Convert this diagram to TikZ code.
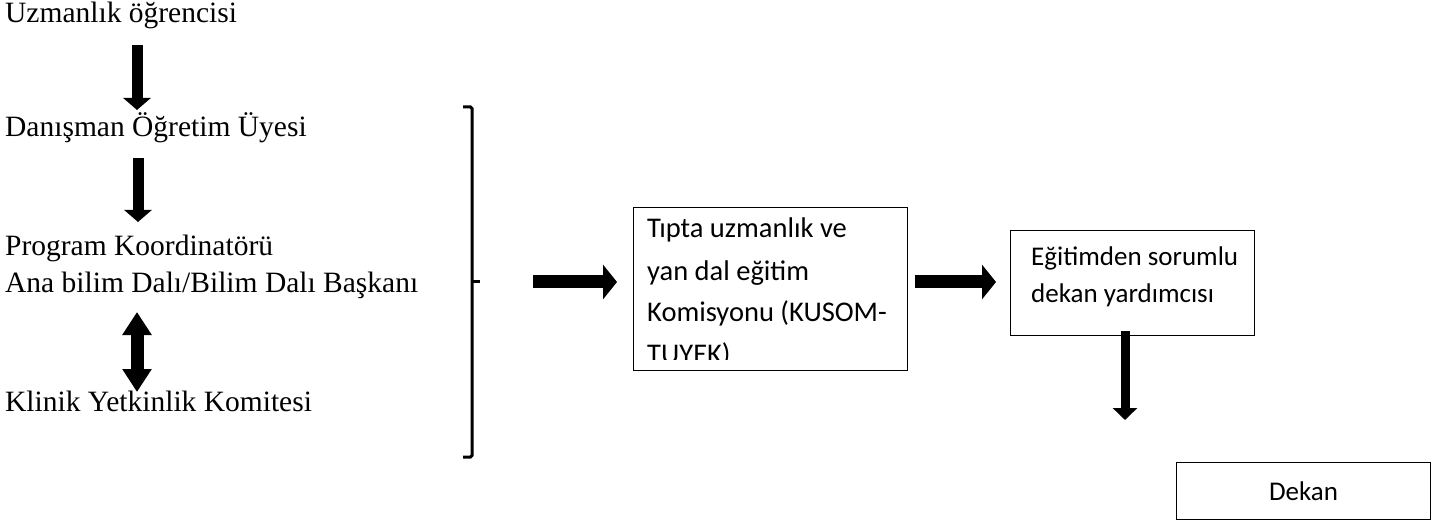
\documentclass[tikz,border=0pt]{standalone}
\usepackage{fontspec}
\setmainfont{Liberation Serif}
\newfontfamily\boxfont{Carlito}
\usetikzlibrary{arrows.meta}
\begin{document}
\begin{tikzpicture}[x=1pt,y=-1pt,
  lbl/.style={anchor=base west, inner sep=0pt, font=\fontsize{29.5}{34}\selectfont},
  frame/.style={draw, line width=1.1pt, anchor=north west, inner sep=0pt},
  btext/.style={anchor=base west, inner sep=0pt, font=\boxfont\fontsize{27}{32}\selectfont},
  btextA/.style={btext, font=\boxfont\fontsize{28.5}{34}\selectfont},
  dnarrow/.style={line width=11pt, -{Triangle[width=27pt,length=12pt]}},
  dblarrow/.style={line width=13pt, {Triangle[width=28pt,length=23pt]}-{Triangle[width=28pt,length=23pt]}},
  rtarrow/.style={line width=13pt, -{Triangle[width=34pt,length=14pt]}},
  smarrow/.style={line width=9pt, -{Triangle[width=24pt,length=12pt]}},
  brack/.style={line width=3pt, rounded corners=1.5pt}
]
\useasboundingbox (0,0) rectangle (1448,521);

% left column texts
\node[lbl] (u) at (5,23) {Uzmanlık öğrencisi};
\node[lbl] (d) at (5,137) {Danışman Öğretim Üyesi};
\node[lbl] (p) at (5,256) {Program Koordinatörü};
\node[lbl] (a) at (5,293) {Ana bilim Dalı/Bilim Dalı Başkanı};
\node[lbl] (k) at (5,411) {Klinik Yetkinlik Komitesi};

% vertical arrows
\coordinate (a1s) at (137,45);  \coordinate (a1e) at (137,110);
\coordinate (a2s) at (138,158); \coordinate (a2e) at (138,222);
\coordinate (a3s) at (137,312); \coordinate (a3e) at (137,392);
\draw[dnarrow] (a1s) -- (a1e);
\draw[dnarrow] (a2s) -- (a2e);
\draw[dblarrow] (a3s) -- (a3e);

% bracket
\coordinate (bt) at (463,107);
\coordinate (bb) at (463,457);
\coordinate (bm) at (480,282);
\draw[brack] (bt) -- (472,107) -- (472,457) -- (bb);
\draw[line width=3pt] (472,282) -- (bm);

% box 1
\node[frame, minimum width=274pt, minimum height=163pt] (k1) at (633,207) {};
\begin{scope}
  \clip (634,208) rectangle (906,359);
  \node[btextA] (k1l1) at (647,238) {Tıpta uzmanlık ve};
  \node[btextA] (k1l2) at (647,280) {yan dal eğitim};
  \node[btextA] (k1l3) at (647,321) {Komisyonu (KUSOM-};
  \node[btextA] (k1l4) at (647,363) {TUYEK)};
\end{scope}

% box 2
\node[frame, minimum width=244pt, minimum height=105pt] (k2) at (1010,230) {};
\node[btext] (k2l1) at (1031,266) {Eğitimden sorumlu};
\node[btext] (k2l2) at (1031,302) {dekan yardımcısı};

% Dekan box
\node[frame, minimum width=254pt, minimum height=57pt] (k3) at (1176,462) {};
\node[btext, anchor=center] (k3t) at (k3.center) {Dekan};

% horizontal arrows
\coordinate (r1s) at (533,282); \coordinate (r1e) at (617,282);
\coordinate (r2s) at (915,282); \coordinate (r2e) at (996,282);
\draw[rtarrow] (r1s) -- (r1e);
\draw[rtarrow] (r2s) -- (r2e);

% arrow to Dekan
\coordinate (r3s) at (1125,331); \coordinate (r3e) at (1125,420);
\draw[smarrow] (r3s) -- (r3e);
\end{tikzpicture}
\end{document}
